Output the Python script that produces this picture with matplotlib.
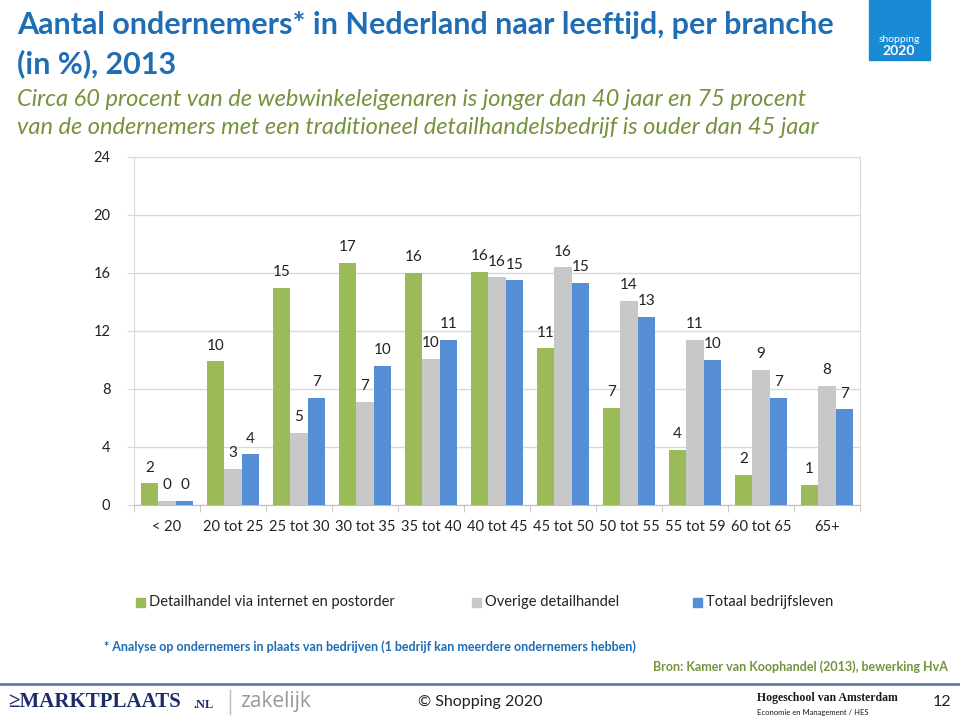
import matplotlib
matplotlib.use("Agg")
import matplotlib.pyplot as plt
from matplotlib.patches import Rectangle
from matplotlib.lines import Line2D
import numpy as np

categories = ["< 20", "20 tot 25", "25 tot 30", "30 tot 35", "35 tot 40", "40 tot 45",
              "45 tot 50", "50 tot 55", "55 tot 59", "60 tot 65", "65+"]
series_names = ["Detailhandel via internet en postorder", "Overige detailhandel", "Totaal bedrijfsleven"]
internet = [1.5, 9.9, 15.0, 16.7, 16.0, 16.1, 10.8, 6.7, 3.8, 2.1, 1.4]
overig = [0.3, 2.5, 5.0, 7.1, 10.1, 15.7, 16.4, 14.1, 11.4, 9.3, 8.2]
totaal = [0.3, 3.5, 7.4, 9.6, 11.4, 15.5, 15.3, 13.0, 10.0, 7.4, 6.6]
labels_internet = ["2", "10", "15", "17", "16", "16", "11", "7", "4", "2", "1"]
labels_overig = ["0", "3", "5", "7", "10", "16", "16", "14", "11", "9", "8"]
labels_totaal = ["0", "4", "7", "10", "11", "15", "15", "13", "10", "7", "7"]
yticks = [0, 4, 8, 12, 16, 20, 24]

colors = ["#9BBB59", "#C8C8C8", "#558ED5"]
FONT = ["Lato", "DejaVu Sans"]
plt.rcParams['font.family'] = FONT

fig = plt.figure(figsize=(9.6, 7.19), dpi=100)
W, H = 960, 719

def fx(x):
    return x / W

def fy(y):
    return 1 - y / H

ax = fig.add_axes([fx(134), fy(505), fx(860) - fx(134), fy(157) - fy(505)])
x = np.arange(len(categories))
bw = 0.265
series = [internet, overig, totaal]
labs = [labels_internet, labels_overig, labels_totaal]
for i, (vals, lb, c) in enumerate(zip(series, labs, colors)):
    xs = x + (i - 1) * bw
    ax.bar(xs, vals, width=bw, color=c, zorder=3, label=series_names[i])
    for xi, v, t in zip(xs, vals, lb):
        ax.text(xi, v + 0.6, t, ha="center", va="bottom", fontsize=11, color="#222222")

ax.set_xlim(-0.5, len(categories) - 0.5)
ax.set_ylim(0, 24)
ax.set_yticks(yticks)
ax.set_yticklabels([str(t) for t in yticks], fontsize=10.5, color="#222222")
ax.set_xticks(x)
ax.set_xticklabels(categories, fontsize=10.5, color="#222222")
ax.set_xticks(np.arange(-0.5, len(categories), 1), minor=True)
ax.tick_params(axis="x", which="major", length=0, pad=11)
ax.tick_params(axis="x", which="minor", length=5, color="#BFBFBF", direction="out")
ax.tick_params(axis="y", length=5, color="#D9D9D9", pad=12)
ax.grid(axis="y", color="#D9D9D9", linewidth=1, zorder=0)
ax.spines["top"].set_visible(False)
for s in ["left", "right"]:
    ax.spines[s].set_color("#D9D9D9")
ax.spines["bottom"].set_color("#BFBFBF")

# legend
leg_x = [136, 472, 693]
for lx, c, name in zip(leg_x, colors, series_names):
    fig.patches.append(Rectangle((fx(lx), fy(607)), 9 / W, 9 / H, color=c, transform=fig.transFigure))
    fig.text(fx(lx + 13), fy(602), name, fontsize=10.5, va="center", ha="left", color="#222222")

# titles
fig.text(fx(17), fy(25), "Aantal ondernemers* in Nederland naar leeftijd, per branche",
         fontsize=22, fontweight="bold", color="#1F6DB5", va="center", ha="left")
fig.text(fx(17), fy(64), "(in %), 2013",
         fontsize=22, fontweight="bold", color="#1F6DB5", va="center", ha="left")
fig.text(fx(17), fy(99), "Circa 60 procent van de webwinkeleigenaren is jonger dan 40 jaar en 75 procent",
         fontsize=17, style="italic", color="#76923C", va="center", ha="left")
fig.text(fx(17), fy(127), "van de ondernemers met een traditioneel detailhandelsbedrijf is ouder dan 45 jaar",
         fontsize=17, style="italic", color="#76923C", va="center", ha="left")

# logo top right
fig.patches.append(Rectangle((fx(869), fy(60)), 61 / W, 60 / H, color="#1A8AD4", transform=fig.transFigure))
fig.text(fx(899), fy(40), "shopping", fontsize=7.5, color="white", ha="center", va="center")
fig.text(fx(899), fy(51), "2020", fontsize=10, color="white", ha="center", va="center", fontweight="bold")

# footnotes
fig.text(fx(104), fy(647), "* Analyse op ondernemers in plaats van bedrijven (1 bedrijf kan meerdere ondernemers hebben)",
         fontsize=9, fontweight="bold", color="#1F6DB5", va="center", ha="left")
fig.text(fx(948), fy(667), "Bron: Kamer van Koophandel (2013), bewerking HvA",
         fontsize=9, fontweight="bold", color="#76923C", va="center", ha="right")

# footer line
fig.lines.append(Line2D([0, 1], [fy(684), fy(684)], transform=fig.transFigure, color="#5B80AE", linewidth=2))

# footer texts
fig.text(fx(8), fy(702), "≥MARKTPLAATS", fontsize=15, fontweight="bold", family=["Liberation Serif", "DejaVu Serif"],
         color="#1B2C66", va="center", ha="left")
fig.text(fx(193), fy(705), ".NL", fontsize=9, fontweight="bold", family=["Liberation Serif", "DejaVu Serif"],
         color="#1B2C66", va="center", ha="left")
fig.lines.append(Line2D([fx(230), fx(230)], [fy(690), fy(714)], transform=fig.transFigure, color="#BBBBBB", linewidth=1))
fig.text(fx(240), fy(702), "zakelijk", fontsize=15, color="#999999", va="center", ha="left",
         family=["Open Sans", "DejaVu Sans"])
fig.text(fx(480), fy(702), "© Shopping 2020", fontsize=11.5, color="#222222", va="center", ha="center")
fig.text(fx(757), fy(698), "Hogeschool van Amsterdam", fontsize=8.5, fontweight="bold",
         family=["Liberation Serif", "DejaVu Serif"], color="#1a1a1a", va="center", ha="left")
fig.text(fx(757), fy(712), "Economie en Management / HES", fontsize=5.5,
         color="#1a1a1a", va="center", ha="left")
fig.text(fx(942), fy(702), "12", fontsize=11.5, color="#222222", va="center", ha="center")

fig.savefig("out.png", dpi=100)
